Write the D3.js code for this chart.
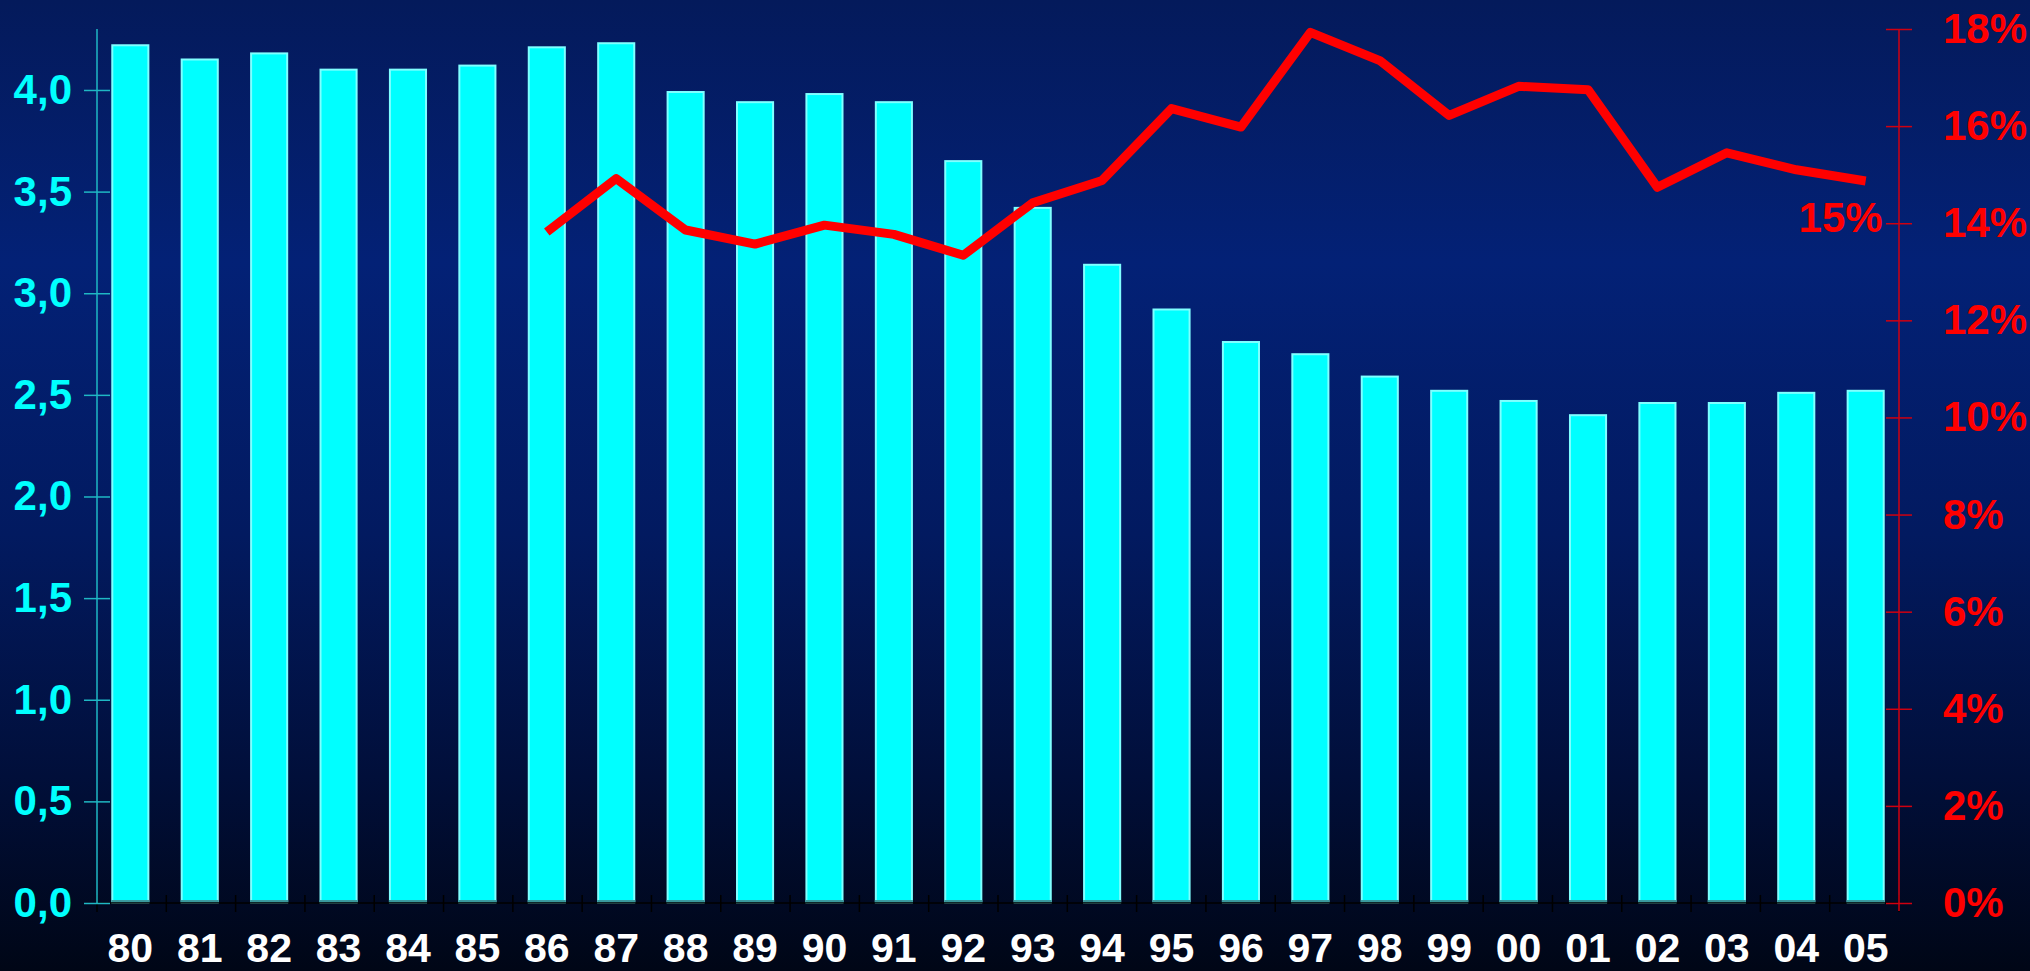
<!DOCTYPE html>
<html>
<head>
<meta charset="utf-8">
<script src="https://cdn.jsdelivr.net/npm/d3@7"></script>
<style>
    html, body { margin: 0; padding: 0; background: #000; }
    svg { display: block; }
</style>
</head>
<body>
<svg id="chart" width="2030" height="971"></svg>
<script>

// --------------------------------------
// Data
// --------------------------------------

var years = ["80","81","82","83","84","85","86","87","88","89","90","91","92",
             "93","94","95","96","97","98","99","00","01","02","03","04","05"];

// bar series (left axis)
var barValues = [4.22, 4.15, 4.18, 4.10, 4.10, 4.12, 4.21, 4.23, 3.99, 3.94, 3.98, 3.94, 3.65,
                 3.42, 3.14, 2.92, 2.76, 2.70, 2.59, 2.52, 2.47, 2.40, 2.46, 2.46, 2.51, 2.52];

// line series (right axis, percent), starts at 86
var lineYears = ["86","87","88","89","90","91","92","93","94","95",
                 "96","97","98","99","00","01","02","03","04","05"];
var lineValues = [13.82, 14.92, 13.86, 13.57, 13.96, 13.77, 13.34, 14.42, 14.88, 16.36,
                  15.98, 17.93, 17.35, 16.22, 16.82, 16.75, 14.74, 15.45, 15.10, 14.87];

var leftTicks = [0, 0.5, 1.0, 1.5, 2.0, 2.5, 3.0, 3.5, 4.0];
var rightTicks = [0, 2, 4, 6, 8, 10, 12, 14, 16, 18];
var endLabel = "15%";

(function(){

    // --------------------------------------
    // Layout
    // --------------------------------------

    var svg = d3.select("#chart");
    var plotLeft = 97, plotRight = 1899, plotTop = 29, plotBottom = 903;
    var font = "Liberation Sans, Arial, sans-serif";

    // background gradient
    var defs = svg.append("defs");
    var grad = defs.append("linearGradient")
        .attr("id", "bg")
        .attr("x1", 0).attr("y1", 0).attr("x2", 0).attr("y2", 1);
    grad.append("stop").attr("offset", "0").attr("stop-color", "#041a5b");
    grad.append("stop").attr("offset", "0.27").attr("stop-color", "#032176");
    grad.append("stop").attr("offset", "0.55").attr("stop-color", "#021a60");
    grad.append("stop").attr("offset", "0.8").attr("stop-color", "#010f3a");
    grad.append("stop").attr("offset", "1").attr("stop-color", "#000616");

    svg.append("rect")
        .attr("width", 2030).attr("height", 971)
        .attr("fill", "url(#bg)");

    // scales
    var x = d3.scaleBand().domain(years).range([plotLeft, plotRight])
        .paddingInner(0.48).paddingOuter(0.22);
    var yLeft = d3.scaleLinear().domain([0, 4.3]).range([plotBottom, plotTop]);
    var yRight = d3.scaleLinear().domain([0, 18]).range([plotBottom, plotTop]);
    var fmt = d3.format(".1f");

    // --------------------------------------
    // Bars
    // --------------------------------------

    var bars = svg.append("g");
    bars.selectAll("rect.bar")
        .data(barValues)
        .enter().append("rect")
        .attr("class", "bar")
        .attr("x", function(d, i){ return x(years[i]); })
        .attr("y", function(d){ return yLeft(d); })
        .attr("width", x.bandwidth())
        .attr("height", function(d){ return plotBottom - yLeft(d); })
        .attr("fill", "#00ffff")
        .attr("stroke", "#80ffff")
        .attr("stroke-width", 2);

    // darker strip at the foot of each bar
    bars.selectAll("rect.foot")
        .data(barValues)
        .enter().append("rect")
        .attr("class", "foot")
        .attr("x", function(d, i){ return x(years[i]) - 1; })
        .attr("y", plotBottom - 3)
        .attr("width", x.bandwidth() + 2)
        .attr("height", 3)
        .attr("fill", "#3a9a9e");

    // --------------------------------------
    // Axes
    // --------------------------------------

    // x axis: black line with ticks between categories
    var xg = svg.append("g").attr("transform", "translate(0," + plotBottom + ")");
    xg.append("line")
        .attr("x1", plotLeft).attr("x2", plotRight)
        .attr("stroke", "#000").attr("stroke-width", 1.5);
    var step = (plotRight - plotLeft) / years.length;
    xg.selectAll("line.tick")
        .data(d3.range(years.length + 1))
        .enter().append("line")
        .attr("class", "tick")
        .attr("x1", function(i){ return plotLeft + i * step; })
        .attr("x2", function(i){ return plotLeft + i * step; })
        .attr("y1", -8).attr("y2", 9)
        .attr("stroke", "#000").attr("stroke-width", 1.5);
    xg.selectAll("text")
        .data(years)
        .enter().append("text")
        .attr("x", function(d){ return x(d) + x.bandwidth() / 2; })
        .attr("y", 59)
        .attr("text-anchor", "middle")
        .attr("font-family", font)
        .attr("font-weight", "bold")
        .attr("font-size", 41)
        .attr("fill", "#ffffff")
        .text(function(d){ return d; });

    // left axis
    var leftAxis = d3.axisLeft(yLeft)
        .tickValues(leftTicks)
        .tickSize(13)
        .tickPadding(12)
        .tickFormat(function(d){ return fmt(d).replace(".", ","); });
    var lg = svg.append("g")
        .attr("transform", "translate(" + plotLeft + ",0)")
        .call(leftAxis);
    lg.select(".domain").remove();
    lg.append("line")
        .attr("y1", plotTop).attr("y2", plotBottom)
        .attr("stroke", "#1fb8c4").attr("stroke-width", 1.5);
    lg.selectAll(".tick line")
        .attr("x1", 13)
        .attr("stroke", "#1fb8c4").attr("stroke-width", 1.5);
    lg.selectAll(".tick text")
        .attr("font-family", font)
        .attr("font-weight", "bold")
        .attr("font-size", 42)
        .attr("fill", "#00ffff");

    // right axis
    var rightAxis = d3.axisRight(yRight)
        .tickValues(rightTicks)
        .tickSize(13)
        .tickPadding(31)
        .tickFormat(function(d){ return d + "%"; });
    var rg = svg.append("g")
        .attr("transform", "translate(" + plotRight + ",0)")
        .call(rightAxis);
    rg.select(".domain").remove();
    rg.append("line")
        .attr("y1", plotTop).attr("y2", plotBottom + 8)
        .attr("stroke", "#d00010").attr("stroke-width", 1.5);
    rg.selectAll(".tick line")
        .attr("x1", -13)
        .attr("stroke", "#d00010").attr("stroke-width", 1.5);
    rg.selectAll(".tick text")
        .attr("font-family", font)
        .attr("font-weight", "bold")
        .attr("font-size", 42)
        .attr("fill", "#ff0000");

    // --------------------------------------
    // Line
    // --------------------------------------

    var line = d3.line()
        .x(function(d, i){ return x(lineYears[i]) + x.bandwidth() / 2; })
        .y(function(d){ return yRight(d); });

    svg.append("path")
        .datum(lineValues)
        .attr("d", line)
        .attr("fill", "none")
        .attr("stroke", "#ff0000")
        .attr("stroke-width", 9)
        .attr("stroke-linejoin", "round");

    // end label
    var last = lineValues.length - 1;
    svg.append("text")
        .attr("x", x(lineYears[last]) + x.bandwidth() / 2 + 17)
        .attr("y", yRight(lineValues[last]) + 51)
        .attr("text-anchor", "end")
        .attr("font-family", font)
        .attr("font-weight", "bold")
        .attr("font-size", 42)
        .attr("fill", "#ff0000")
        .text(endLabel);

})();

</script>
</body>
</html>
